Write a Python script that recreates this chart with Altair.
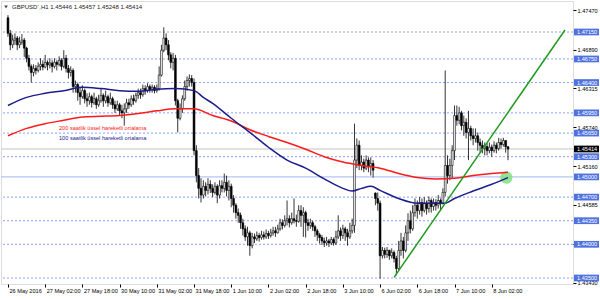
import altair as alt
import pandas as pd

# ---------------- data ----------------
bars = list(range(216))

opens = [1.4736, 1.4713, 1.4696, 1.4703, 1.4706, 1.4696, 1.4700, 1.4703, 1.4691, 1.4676,
         1.4664, 1.4655, 1.4661, 1.4658, 1.4664, 1.4667, 1.4663, 1.4670, 1.4666, 1.4669,
         1.4664, 1.4670, 1.4667, 1.4673, 1.4664, 1.4676, 1.4661, 1.4655, 1.4658, 1.4634,
         1.4637, 1.4625, 1.4619, 1.4628, 1.4616, 1.4613, 1.4619, 1.4610, 1.4616, 1.4607,
         1.4613, 1.4621, 1.4613, 1.4619, 1.4610, 1.4616, 1.4607, 1.4601, 1.4607, 1.4598,
         1.4595, 1.4601, 1.4610, 1.4607, 1.4616, 1.4613, 1.4621, 1.4625, 1.4622, 1.4631,
         1.4628, 1.4634, 1.4630, 1.4633, 1.4628, 1.4631, 1.4651, 1.4688, 1.4706, 1.4696,
         1.4681, 1.4670, 1.4676, 1.4613, 1.4587, 1.4601, 1.4616, 1.4634, 1.4643, 1.4646,
         1.4640, 1.4539, 1.4502, 1.4483, 1.4473, 1.4486, 1.4480, 1.4489, 1.4483, 1.4477,
         1.4486, 1.4473, 1.4487, 1.4483, 1.4492, 1.4480, 1.4486, 1.4468, 1.4458, 1.4447,
         1.4443, 1.4432, 1.4423, 1.4411, 1.4417, 1.4398, 1.4411, 1.4408, 1.4413, 1.4410,
         1.4414, 1.4411, 1.4416, 1.4413, 1.4417, 1.4420, 1.4417, 1.4423, 1.4432, 1.4428,
         1.4435, 1.4438, 1.4432, 1.4438, 1.4435, 1.4434, 1.4450, 1.4443, 1.4447, 1.4432,
         1.4428, 1.4432, 1.4426, 1.4420, 1.4414, 1.4410, 1.4405, 1.4402, 1.4405, 1.4402,
         1.4407, 1.4402, 1.4411, 1.4420, 1.4413, 1.4423, 1.4417, 1.4411, 1.4420, 1.4428,
         1.4525, 1.4547, 1.4517, 1.4522, 1.4513, 1.4525, 1.4516, 1.4520, 1.4476, 1.4468,
         1.4461, 1.4383, 1.4391, 1.4385, 1.4391, 1.4383, 1.4388, 1.4379, 1.4364, 1.4391,
         1.4405, 1.4391, 1.4417, 1.4435, 1.4423, 1.4447, 1.4458, 1.4450, 1.4462, 1.4450,
         1.4461, 1.4453, 1.4465, 1.4456, 1.4462, 1.4458, 1.4465, 1.4461, 1.4477, 1.4517,
         1.4502, 1.4517, 1.4539, 1.4591, 1.4584, 1.4595, 1.4576, 1.4581, 1.4566, 1.4572,
         1.4561, 1.4557, 1.4561, 1.4551, 1.4547, 1.4542, 1.4545, 1.4539, 1.4544, 1.4539,
         1.4547, 1.4542, 1.4551, 1.4548, 1.4554, 1.45446]

highs = [1.4740, 1.4718, 1.4711, 1.4713, 1.4709, 1.4708, 1.4712, 1.4706, 1.4693, 1.4681,
         1.4667, 1.4667, 1.4666, 1.4670, 1.4676, 1.4673, 1.4681, 1.4673, 1.4676, 1.4673,
         1.4676, 1.4673, 1.4679, 1.4676, 1.4688, 1.4681, 1.4666, 1.4664, 1.4661, 1.4643,
         1.4640, 1.4634, 1.4636, 1.4631, 1.4624, 1.4625, 1.4622, 1.4625, 1.4619, 1.4622,
         1.4631, 1.4624, 1.4628, 1.4622, 1.4625, 1.4619, 1.4613, 1.4613, 1.4610, 1.4607,
         1.4609, 1.4616, 1.4616, 1.4621, 1.4622, 1.4625, 1.4631, 1.4631, 1.4637, 1.4636,
         1.4639, 1.4637, 1.4637, 1.4636, 1.4637, 1.4664, 1.4696, 1.4722, 1.4713, 1.4703,
         1.4685, 1.4684, 1.4681, 1.4616, 1.4609, 1.4621, 1.4643, 1.4649, 1.4652, 1.4651,
         1.4646, 1.4547, 1.4513, 1.4498, 1.4495, 1.4492, 1.4498, 1.4495, 1.4489, 1.4492,
         1.4489, 1.4495, 1.4495, 1.4505, 1.4502, 1.4495, 1.4490, 1.4473, 1.4461, 1.4453,
         1.4447, 1.4438, 1.4428, 1.4426, 1.4420, 1.4417, 1.4416, 1.4419, 1.4417, 1.4420,
         1.4419, 1.4422, 1.4420, 1.4423, 1.4426, 1.4426, 1.4429, 1.4438, 1.4437, 1.4443,
         1.4465, 1.4443, 1.4447, 1.4468, 1.4444, 1.4458, 1.4458, 1.4455, 1.4450, 1.4438,
         1.4438, 1.4435, 1.4429, 1.4423, 1.4417, 1.4414, 1.4410, 1.4411, 1.4408, 1.4411,
         1.4410, 1.4420, 1.4443, 1.4425, 1.4429, 1.4426, 1.4423, 1.4432, 1.4438, 1.4579,
         1.4557, 1.4554, 1.4532, 1.4527, 1.4532, 1.4529, 1.4529, 1.4525, 1.4477, 1.4477,
         1.4465, 1.4396, 1.4395, 1.4396, 1.4392, 1.4394, 1.4391, 1.4383, 1.4405, 1.4417,
         1.4411, 1.4428, 1.4446, 1.4450, 1.4458, 1.4468, 1.4465, 1.4470, 1.4468, 1.4470,
         1.4465, 1.4471, 1.4468, 1.4468, 1.4467, 1.4473, 1.4468, 1.4483, 1.4658, 1.4532,
         1.4527, 1.4547, 1.4606, 1.4606, 1.4604, 1.4598, 1.4591, 1.4587, 1.4598, 1.4576,
         1.4572, 1.4572, 1.4566, 1.4557, 1.4554, 1.4551, 1.4550, 1.4551, 1.4548, 1.4553,
         1.4551, 1.4558, 1.4557, 1.4558, 1.4554, 1.45457]

lows = [1.4708, 1.4688, 1.4691, 1.4696, 1.4688, 1.4691, 1.4696, 1.4678, 1.4670, 1.4658,
        1.4640, 1.4649, 1.4652, 1.4655, 1.4658, 1.4658, 1.4661, 1.4658, 1.4661, 1.4655,
        1.4661, 1.4658, 1.4664, 1.4658, 1.4661, 1.4655, 1.4646, 1.4649, 1.4625, 1.4625,
        1.4613, 1.4607, 1.4616, 1.4609, 1.4604, 1.4607, 1.4603, 1.4607, 1.4601, 1.4604,
        1.4610, 1.4604, 1.4609, 1.4604, 1.4607, 1.4601, 1.4595, 1.4598, 1.4591, 1.4587,
        1.4576, 1.4595, 1.4601, 1.4604, 1.4607, 1.4610, 1.4616, 1.4616, 1.4619, 1.4622,
        1.4625, 1.4625, 1.4625, 1.4624, 1.4625, 1.4628, 1.4649, 1.4685, 1.4688, 1.4673,
        1.4661, 1.4658, 1.4606, 1.4566, 1.4584, 1.4595, 1.4613, 1.4628, 1.4634, 1.4634,
        1.4532, 1.4492, 1.4468, 1.4462, 1.4468, 1.4471, 1.4474, 1.4476, 1.4470, 1.4474,
        1.4461, 1.4468, 1.4477, 1.4477, 1.4471, 1.4465, 1.4455, 1.4447, 1.4438, 1.4432,
        1.4423, 1.4413, 1.4405, 1.4398, 1.4383, 1.4394, 1.4402, 1.4405, 1.4404, 1.4407,
        1.4407, 1.4408, 1.4408, 1.4410, 1.4413, 1.4411, 1.4416, 1.4420, 1.4422, 1.4425,
        1.4428, 1.4425, 1.4429, 1.4431, 1.4426, 1.4432, 1.4426, 1.4411, 1.4410, 1.4420,
        1.4423, 1.4420, 1.4411, 1.4405, 1.4401, 1.4399, 1.4396, 1.4398, 1.4396, 1.4399,
        1.4398, 1.4399, 1.4408, 1.4405, 1.4408, 1.4405, 1.4398, 1.4408, 1.4416, 1.4417,
        1.4513, 1.4510, 1.4510, 1.4507, 1.4510, 1.4507, 1.4502, 1.4499, 1.4458, 1.4450,
        1.4349, 1.4379, 1.4379, 1.4380, 1.4377, 1.4379, 1.4373, 1.4354, 1.4361, 1.4383,
        1.4379, 1.4388, 1.4405, 1.4416, 1.4420, 1.4441, 1.4438, 1.4444, 1.4441, 1.4447,
        1.4444, 1.4447, 1.4447, 1.4450, 1.4450, 1.4453, 1.4450, 1.4459, 1.4471, 1.4490,
        1.4495, 1.4498, 1.4525, 1.4576, 1.4578, 1.4569, 1.4561, 1.4557, 1.4525, 1.4554,
        1.4547, 1.4551, 1.4539, 1.4536, 1.4535, 1.4532, 1.4532, 1.4535, 1.4530, 1.4536,
        1.4535, 1.4539, 1.4542, 1.4545, 1.4536, 1.45248]

closes = [1.4713, 1.4696, 1.4703, 1.4706, 1.4696, 1.4700, 1.4703, 1.4691, 1.4676, 1.4664,
          1.4655, 1.4661, 1.4658, 1.4664, 1.4667, 1.4663, 1.4670, 1.4666, 1.4669, 1.4664,
          1.4670, 1.4667, 1.4673, 1.4664, 1.4676, 1.4661, 1.4655, 1.4658, 1.4634, 1.4637,
          1.4625, 1.4619, 1.4628, 1.4616, 1.4613, 1.4619, 1.4610, 1.4616, 1.4607, 1.4613,
          1.4621, 1.4613, 1.4619, 1.4610, 1.4616, 1.4607, 1.4601, 1.4607, 1.4598, 1.4595,
          1.4601, 1.4610, 1.4607, 1.4616, 1.4613, 1.4621, 1.4625, 1.4622, 1.4631, 1.4628,
          1.4634, 1.4630, 1.4633, 1.4628, 1.4631, 1.4651, 1.4688, 1.4706, 1.4696, 1.4681,
          1.4670, 1.4676, 1.4613, 1.4587, 1.4601, 1.4616, 1.4634, 1.4643, 1.4646, 1.4640,
          1.4539, 1.4502, 1.4483, 1.4473, 1.4486, 1.4480, 1.4489, 1.4483, 1.4477, 1.4486,
          1.4473, 1.4487, 1.4483, 1.4492, 1.4480, 1.4486, 1.4468, 1.4458, 1.4447, 1.4443,
          1.4432, 1.4423, 1.4411, 1.4417, 1.4398, 1.4411, 1.4408, 1.4413, 1.4410, 1.4414,
          1.4411, 1.4416, 1.4413, 1.4417, 1.4420, 1.4417, 1.4423, 1.4432, 1.4428, 1.4435,
          1.4438, 1.4432, 1.4438, 1.4435, 1.4434, 1.4450, 1.4443, 1.4447, 1.4432, 1.4428,
          1.4432, 1.4426, 1.4420, 1.4414, 1.4410, 1.4405, 1.4402, 1.4405, 1.4402, 1.4407,
          1.4402, 1.4411, 1.4420, 1.4413, 1.4423, 1.4417, 1.4411, 1.4420, 1.4428, 1.4525,
          1.4547, 1.4517, 1.4522, 1.4513, 1.4525, 1.4516, 1.4520, 1.4510, 1.4468, 1.4461,
          1.4383, 1.4391, 1.4385, 1.4391, 1.4383, 1.4388, 1.4379, 1.4364, 1.4391, 1.4405,
          1.4391, 1.4417, 1.4435, 1.4423, 1.4447, 1.4458, 1.4450, 1.4462, 1.4450, 1.4461,
          1.4453, 1.4465, 1.4456, 1.4462, 1.4458, 1.4465, 1.4461, 1.4477, 1.4517, 1.4502,
          1.4517, 1.4539, 1.4591, 1.4584, 1.4595, 1.4576, 1.4581, 1.4566, 1.4572, 1.4561,
          1.4557, 1.4561, 1.4551, 1.4547, 1.4542, 1.4545, 1.4539, 1.4544, 1.4539, 1.4547,
          1.4542, 1.4551, 1.4548, 1.4554, 1.45446, 1.45414]

ema200_bars = [0, 8, 16, 24, 32, 40, 48, 56, 64, 72, 80, 88, 96, 104, 112, 120, 128, 136,
               144, 152, 160, 168, 176, 184, 192, 200, 208, 215]
ema200_vals = [1.4561, 1.4572, 1.4579, 1.4584, 1.4589, 1.4590, 1.4591, 1.4594, 1.4598, 1.4601,
               1.4601, 1.4591, 1.4583, 1.4570, 1.4560, 1.4551, 1.4541, 1.4530, 1.4522, 1.4517,
               1.4513, 1.4505, 1.4499, 1.4497, 1.4498, 1.4502, 1.4505, 1.4507]

ema100_bars = [0, 8, 16, 24, 32, 40, 48, 56, 64, 72, 80, 84, 88, 96, 104, 112, 120, 128, 136,
               144, 148, 152, 156, 160, 168, 176, 184, 188, 192, 200, 208, 215]
ema100_vals = [1.4606, 1.4618, 1.4624, 1.4628, 1.4633, 1.4631, 1.4628, 1.4627, 1.4630, 1.4631,
               1.4628, 1.4618, 1.4609, 1.4587, 1.4566, 1.4544, 1.4525, 1.4513, 1.4497, 1.4483,
               1.4479, 1.4483, 1.4486, 1.4480, 1.4468, 1.4461, 1.4461, 1.4461, 1.4468, 1.4479,
               1.4489, 1.4499]

trend_bars = [166, 239.5]
trend_prices = [1.4351, 1.4718]

marker_bar = [214.3]
marker_price = [1.4499]

dotted_levels = [1.4715, 1.4675, 1.4640, 1.4595, 1.4565, 1.4530, 1.4470, 1.4435, 1.4400, 1.4350]
solid_levels = [1.4500]
current_price = [1.45414]

price_axis_values = [1.47470, 1.47180, 1.46890, 1.46605, 1.46315, 1.46025, 1.45740, 1.45454,
                     1.45160, 1.44870, 1.44585, 1.44295, 1.44005, 1.43720, 1.43430]

time_tick_bars = [0, 16, 32, 48, 64, 80, 96, 112, 128, 144, 160, 176, 192, 208]
time_tick_labels = ["26 May 2016", "27 May 02:00", "27 May 18:00", "30 May 10:00",
                    "31 May 02:00", "31 May 18:00", "1 Jun 10:00", "2 Jun 02:00",
                    "2 Jun 18:00", "3 Jun 10:00", "6 Jun 02:00", "6 Jun 18:00",
                    "7 Jun 10:00", "8 Jun 02:00"]

header_text = "GBPUSD`,H1  1.45446 1.45457 1.45248 1.45414"
red_note = "200 saatlik üssel hareketli ortalama"
blue_note = "100 saatlik üssel hareketli ortalama"

# ---------------- frames ----------------
candles = pd.DataFrame({"bar": bars, "open": opens, "high": highs, "low": lows, "close": closes})
candles["dir"] = ["up" if c >= o else "down" for o, c in zip(opens, closes)]
ema200 = pd.DataFrame({"bar": ema200_bars, "price": ema200_vals})
ema100 = pd.DataFrame({"bar": ema100_bars, "price": ema100_vals})
trend = pd.DataFrame({"bar": trend_bars, "price": trend_prices})
marker = pd.DataFrame({"bar": marker_bar, "price": marker_price})
dotted = pd.DataFrame({"price": dotted_levels})
solid = pd.DataFrame({"price": solid_levels})
cur = pd.DataFrame({"price": current_price, "label": [f"{p:.5f}" for p in current_price]})
boxes = pd.DataFrame({"price": dotted_levels + solid_levels})
boxes["label"] = [f"{p:.5f}" for p in boxes["price"]]

FONT = "Liberation Sans Narrow, Liberation Sans, Arial, sans-serif"
XS = alt.Scale(domain=[-0.845, 240.8], nice=False, zero=False)
YS = alt.Scale(domain=[1.43411, 1.4761], nice=False, zero=False)

label_array = "[" + ",".join(f"'{t}'" for t in time_tick_labels) + "]"
x_axis = alt.Axis(values=time_tick_bars, labelExpr=label_array + "[round(datum.value/16)]",
                  labelAlign="left", labelBaseline="top", labelFlush=False, labelOverlap=False,
                  tickSize=3, tickColor="black", domain=False, grid=False, title=None,
                  labelFontSize=5.6, labelFont=FONT, labelColor="black", labelPadding=1,
                  labelOffset=1)
y_axis = alt.Axis(orient="right", values=price_axis_values, format=".5f", labelFlush=False,
                  labelOverlap=False, tickSize=3, tickColor="black", domain=False, grid=False,
                  title=None, labelFontSize=5.6, labelFont=FONT, labelColor="black",
                  labelPadding=1, labelBaseline="middle")

X = alt.X("bar:Q", scale=XS, axis=x_axis)
Y = alt.Y("price:Q", scale=YS, axis=y_axis)

base_axes = alt.Chart(dotted).mark_rule(color="#8aa3f2", strokeDash=[2, 2], strokeWidth=1).encode(
    y=Y
)
solid_rule = alt.Chart(solid).mark_rule(color="#a3b8f2", strokeWidth=1).encode(
    y=alt.Y("price:Q", scale=YS)
)
cur_rule = alt.Chart(cur).mark_rule(color="#c4c4c4", strokeWidth=1).encode(
    y=alt.Y("price:Q", scale=YS)
)

wicks = alt.Chart(candles).mark_rule(color="black", strokeWidth=0.8).encode(
    x=X,
    y=alt.Y("low:Q", scale=YS),
    y2="high:Q",
)
bodies = alt.Chart(candles).mark_bar(width=1.8, stroke="black", strokeWidth=0.6).encode(
    x=alt.X("bar:Q", scale=XS),
    y=alt.Y("open:Q", scale=YS),
    y2="close:Q",
    color=alt.Color("dir:N", scale=alt.Scale(domain=["up", "down"], range=["white", "black"]),
                    legend=None),
)

circle = alt.Chart(marker).mark_point(filled=True, color="#7fe07f", opacity=0.85, size=150,
                                      strokeWidth=0).encode(
    x=alt.X("bar:Q", scale=XS), y=alt.Y("price:Q", scale=YS)
)
red_line = alt.Chart(ema200).mark_line(color="#ff1a1a", strokeWidth=1.5, interpolate="monotone").encode(
    x=alt.X("bar:Q", scale=XS), y=alt.Y("price:Q", scale=YS)
)
blue_line = alt.Chart(ema100).mark_line(color="#1c1c8e", strokeWidth=1.5, interpolate="monotone").encode(
    x=alt.X("bar:Q", scale=XS), y=alt.Y("price:Q", scale=YS)
)
trend_line = alt.Chart(trend).mark_line(color="#1f9a1f", strokeWidth=1.5, clip=True).encode(
    x=alt.X("bar:Q", scale=XS), y=alt.Y("price:Q", scale=YS)
)

BOX = "M-1,-0.27L1,-0.27L1,0.27L-1,0.27Z"
box_marks = alt.Chart(boxes).mark_point(shape=BOX, filled=True, color="#4f72e0", opacity=1,
                                        size=625, strokeWidth=0).encode(
    x=alt.value(585.5), y=alt.Y("price:Q", scale=YS)
)
box_text = alt.Chart(boxes).mark_text(align="left", baseline="middle", color="white",
                                      fontSize=5.6, font=FONT).encode(
    x=alt.value(576), y=alt.Y("price:Q", scale=YS), text="label:N"
)
cur_box = alt.Chart(cur).mark_point(shape=BOX, filled=True, color="black", opacity=1,
                                    size=625, strokeWidth=0).encode(
    x=alt.value(585.5), y=alt.Y("price:Q", scale=YS)
)
cur_text = alt.Chart(cur).mark_text(align="left", baseline="middle", color="white",
                                    fontSize=5.6, font=FONT).encode(
    x=alt.value(576), y=alt.Y("price:Q", scale=YS), text="label:N"
)

hdr_df = pd.DataFrame({"t": [header_text]})
header = alt.Chart(hdr_df).mark_text(align="left", baseline="middle", fontSize=6,
                                     font=FONT, color="#222").encode(
    x=alt.value(11), y=alt.value(6), text="t:N"
)
tri = alt.Chart(hdr_df).mark_point(shape="triangle-down", filled=True, color="black",
                                   size=14, strokeWidth=0).encode(
    x=alt.value(5), y=alt.value(6)
)
red_txt = alt.Chart(pd.DataFrame({"t": [red_note]})).mark_text(
    align="left", baseline="middle", fontSize=5.6, font="Liberation Sans, Arial, sans-serif",
    color="#ff2020").encode(x=alt.value(58), y=alt.value(127), text="t:N")
blue_txt = alt.Chart(pd.DataFrame({"t": [blue_note]})).mark_text(
    align="left", baseline="middle", fontSize=5.6, font="Liberation Sans, Arial, sans-serif",
    color="#1c1c8e").encode(x=alt.value(58), y=alt.value(137), text="t:N")

chart = alt.layer(
    base_axes, solid_rule, cur_rule, wicks, bodies, circle, red_line, blue_line, trend_line,
    box_marks, box_text, cur_box, cur_text, header, tri, red_txt, blue_txt
).properties(
    width=572, height=283,
    padding={"left": 1, "top": 1, "right": 27, "bottom": 15},
    autosize=alt.AutoSizeParams(type="none"),
).configure_view(stroke="#6a6a6a", strokeWidth=1).configure(background="white")

chart.save("out.html", embed_options={"renderer": "svg", "actions": False})
